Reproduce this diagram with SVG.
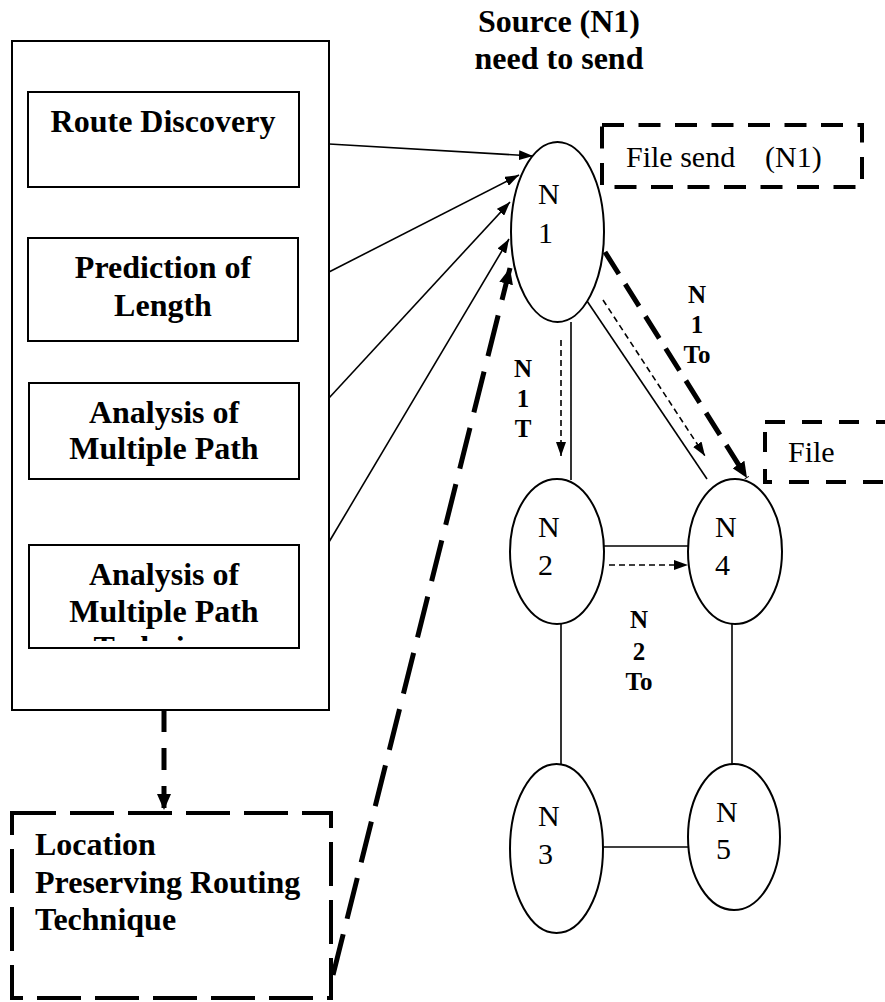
<svg xmlns="http://www.w3.org/2000/svg" width="885" height="1002" viewBox="0 0 885 1002">
<style>
.box{fill:#fff;stroke:#000;stroke-width:2}
.bt{font-family:"Liberation Serif","Times New Roman",serif;font-weight:bold;font-size:32px;fill:#000}
.nt{font-family:"Liberation Serif","Times New Roman",serif;font-size:30px;fill:#000}
.lb{font-family:"Liberation Serif","Times New Roman",serif;font-weight:bold;font-size:25px;fill:#000}
.ell{fill:#fff;stroke:#000;stroke-width:2}
.ln{stroke:#000;stroke-width:1.6;fill:none}
.thin{stroke:#000;stroke-width:1.6;fill:none;stroke-dasharray:6 4}
.thick{stroke:#000;stroke-width:5;fill:none}
.dbox{fill:none;stroke:#000;stroke-width:4}
</style>
<defs>
<marker id="ah" markerUnits="userSpaceOnUse" markerWidth="14" markerHeight="10" refX="14" refY="5" orient="auto">
<path d="M0,0 L14,5 L0,10 z" fill="#000"/>
</marker>
<marker id="ahb" markerUnits="userSpaceOnUse" markerWidth="16" markerHeight="14" refX="16" refY="7" orient="auto">
<path d="M0,0 L16,7 L0,14 z" fill="#000"/>
</marker>
<clipPath id="clip4"><rect x="29" y="600" width="270" height="41"/></clipPath>
</defs>

<g id="title">
<text class="bt" x="559" y="32" text-anchor="middle">Source (N1)</text>
<text class="bt" x="559" y="69" text-anchor="middle">need to send</text>
</g>

<g id="outer">
<rect class="box" x="12" y="41" width="317" height="669"/>
</g>
<g id="route-discovery">
<rect class="box" x="28" y="92" width="271" height="95"/>
<text class="bt" x="163" y="132" text-anchor="middle">Route Discovery</text>
</g>
<g id="prediction">
<rect class="box" x="28" y="238" width="270" height="103"/>
<text class="bt" x="163" y="278" text-anchor="middle">Prediction of</text>
<text class="bt" x="163" y="316" text-anchor="middle">Length</text>
</g>
<g id="analysis1">
<rect class="box" x="29" y="383" width="270" height="96"/>
<text class="bt" x="164" y="423" text-anchor="middle">Analysis of</text>
<text class="bt" x="164" y="459" text-anchor="middle">Multiple Path</text>
</g>
<g id="analysis2">
<rect class="box" x="29" y="545" width="270" height="103"/>
<text class="bt" x="164" y="585" text-anchor="middle">Analysis of</text>
<text class="bt" x="164" y="622" text-anchor="middle">Multiple Path</text>
<text class="bt" x="164" y="658" text-anchor="middle" clip-path="url(#clip4)">Technique</text>
</g>

<g id="location">
<rect class="dbox" x="12" y="813" width="319" height="185" stroke-dasharray="44 14"/>
<text class="bt" x="35" y="855">Location</text>
<text class="bt" x="35" y="893">Preserving Routing</text>
<text class="bt" x="35" y="930">Technique</text>
</g>

<g id="file-send">
<rect class="dbox" x="602" y="125" width="260" height="62" stroke-dasharray="22 14.5"/>
<text class="nt" x="626" y="167">File send</text>
<text class="nt" x="765" y="167">(N1)</text>
</g>
<g id="file">
<rect class="dbox" x="765" y="422" width="140" height="60" stroke-dasharray="20 17"/>
<text class="nt" x="788" y="462">File</text>
</g>

<g id="connectors">
<line class="ln" x1="329" y1="144" x2="533" y2="156" marker-end="url(#ah)"/>
<line class="ln" x1="329" y1="272" x2="519" y2="175" marker-end="url(#ah)"/>
<line class="ln" x1="329" y1="398" x2="510" y2="202" marker-end="url(#ah)"/>
<line class="ln" x1="329" y1="542" x2="509" y2="239" marker-end="url(#ah)"/>
<line class="thick" x1="333" y1="975" x2="510" y2="268" stroke-dasharray="42 16" marker-end="url(#ahb)"/>
<line class="thick" x1="164" y1="710" x2="164" y2="810" stroke-dasharray="22 16" marker-end="url(#ahb)"/>
<line class="ln" x1="571" y1="322" x2="571" y2="480"/>
<line class="thin" x1="561" y1="340" x2="561" y2="456" marker-end="url(#ah)"/>
<line class="ln" x1="587" y1="301" x2="707" y2="479"/>
<line class="thin" x1="603" y1="300" x2="705" y2="456" marker-end="url(#ah)"/>
<line class="thick" x1="605" y1="252" x2="747" y2="478" stroke-dasharray="26 12" marker-end="url(#ahb)"/>
<line class="ln" x1="604" y1="546" x2="688" y2="546"/>
<line class="thin" x1="609" y1="565" x2="688" y2="565" marker-end="url(#ah)"/>
<line class="ln" x1="561" y1="624" x2="561" y2="765"/>
<line class="ln" x1="732" y1="624" x2="732" y2="765"/>
<line class="ln" x1="603" y1="847" x2="688" y2="847"/>
</g>

<g id="labels">
<text class="lb" x="697" y="303" text-anchor="middle">N</text>
<text class="lb" x="697" y="333" text-anchor="middle">1</text>
<text class="lb" x="697" y="363" text-anchor="middle">To</text>
<text class="lb" x="523" y="377" text-anchor="middle">N</text>
<text class="lb" x="523" y="407" text-anchor="middle">1</text>
<text class="lb" x="523" y="437" text-anchor="middle">T</text>
<text class="lb" x="639" y="628" text-anchor="middle">N</text>
<text class="lb" x="639" y="660" text-anchor="middle">2</text>
<text class="lb" x="639" y="690" text-anchor="middle">To</text>
</g>

<g id="N1">
<ellipse class="ell" cx="557.5" cy="232" rx="46.5" ry="90"/>
<text class="nt" x="538" y="204">N</text>
<text class="nt" x="538" y="243">1</text>
</g>
<g id="N2">
<ellipse class="ell" cx="557" cy="551.5" rx="47" ry="72.5"/>
<text class="nt" x="538" y="537">N</text>
<text class="nt" x="538" y="575">2</text>
</g>
<g id="N4">
<ellipse class="ell" cx="735" cy="551.5" rx="47" ry="72.5"/>
<text class="nt" x="715" y="537">N</text>
<text class="nt" x="715" y="575">4</text>
</g>
<g id="N3">
<ellipse class="ell" cx="556.5" cy="848.5" rx="46.5" ry="84.5"/>
<text class="nt" x="538" y="826">N</text>
<text class="nt" x="538" y="864">3</text>
</g>
<g id="N5">
<ellipse class="ell" cx="734" cy="837" rx="46" ry="73"/>
<text class="nt" x="716" y="822">N</text>
<text class="nt" x="716" y="859">5</text>
</g>
</svg>
